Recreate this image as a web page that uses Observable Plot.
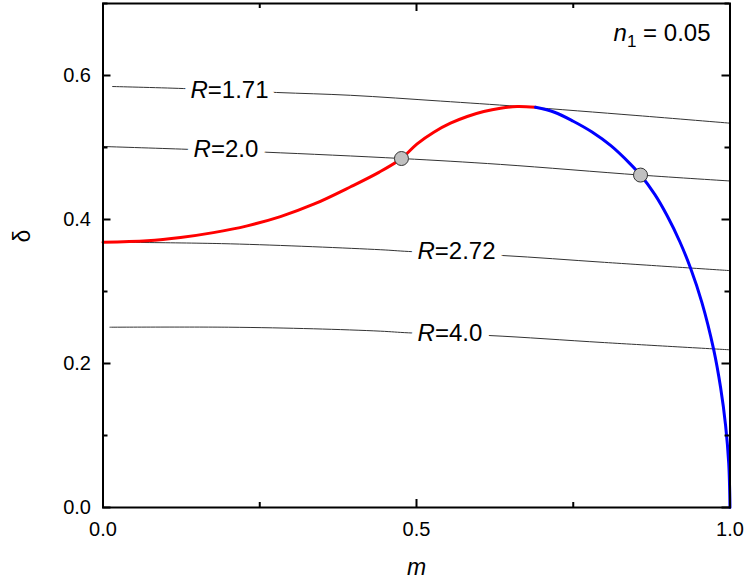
<!DOCTYPE html>
<html><head><meta charset="utf-8">
<script src="https://cdn.jsdelivr.net/npm/d3@7"></script>
<script src="https://cdn.jsdelivr.net/npm/@observablehq/plot@0.6"></script>
<style>body{margin:0;background:#fff;}</style>
</head><body><div id="chart"></div>
<script>
// Red branch (m, δ)
const redM = [0, 0.0705, 0.1236, 0.176, 0.230, 0.283, 0.336, 0.395, 0.44, 0.476, 0.501, 0.5276, 0.5542, 0.5809, 0.6073, 0.634, 0.6606, 0.6898];
const redD = [0.3685, 0.3705, 0.3750, 0.3818, 0.3912, 0.4040, 0.4212, 0.4455, 0.4655, 0.4847, 0.5051, 0.5213, 0.5338, 0.5431, 0.5500, 0.5546, 0.5569, 0.5558];
// Blue branch (m, δ)
const blueM = [0.6898, 0.72, 0.75, 0.78, 0.81, 0.84, 0.8573, 0.88, 0.90, 0.92, 0.937, 0.955, 0.974, 0.985, 0.993, 0.998, 1.0];
const blueD = [0.5558, 0.5490, 0.5365, 0.5215, 0.5025, 0.4780, 0.4617, 0.4348, 0.4048, 0.3691, 0.3326, 0.2853, 0.2193, 0.1666, 0.1138, 0.0608, 0];
// Iso-R lines
const r171M = [0.015, 0.128, 0.277, 0.395, 0.538, 0.666, 0.85, 1.0];
const r171D = [0.5847, 0.5819, 0.5764, 0.5725, 0.5645, 0.5569, 0.5445, 0.5338];
const r20M = [0, 0.134, 0.259, 0.476, 0.634, 0.8573, 1.0];
const r20D = [0.5014, 0.4975, 0.4935, 0.4847, 0.4765, 0.4617, 0.4535];
const r272M = [0, 0.203, 0.443, 0.487, 0.637, 0.8, 1.0];
const r272D = [0.3685, 0.3662, 0.3580, 0.3556, 0.3500, 0.3405, 0.3290];
const r40M = [0.011, 0.2, 0.336, 0.443, 0.487, 0.615, 0.8, 1.0];
const r40D = [0.2504, 0.2504, 0.2482, 0.2449, 0.2426, 0.2389, 0.2290, 0.2190];
// Labels for the iso-R lines
const rLabels = ["R=1.71", "R=2.0", "R=2.72", "R=4.0"];
const rLabelM = [0.2018, 0.196, 0.5638, 0.5534];
const rLabelD = [0.579, 0.4972, 0.3556, 0.2417];
// Intersection points
const ptM = [0.476, 0.8573];
const ptD = [0.4847, 0.4617];
// Ticks
const xMajor = [0, 0.5, 1.0];
const xMinor = [0.25, 0.75];
const yMajor = [0, 0.2, 0.4, 0.6];
const yMinor = [0.1, 0.3, 0.5, 0.7];
const annotation = "n1 = 0.05";

const toRows = (M, D) => M.map((m, i) => ({m, d: D[i]}));
const red = toRows(redM, redD);
const blue = toRows(blueM, blueD);
const rLines = [
  ...toRows(r171M, r171D).map(r => ({...r, R: "1.71"})),
  ...toRows(r20M, r20D).map(r => ({...r, R: "2.0"})),
  ...toRows(r272M, r272D).map(r => ({...r, R: "2.72"})),
  ...toRows(r40M, r40D).map(r => ({...r, R: "4.0"}))
];
const labels = rLabels.map((t, i) => ({t, m: rLabelM[i], d: rLabelD[i]}));
const pts = toRows(ptM, ptD);

const W = 747, H = 583, mL = 102.5, mR = 17.5, mT = 3, mB = 76;
const ph = H - mT - mB, pw = W - mL - mR;
const fmt = d3.format(".1f");

const chart = Plot.plot({
  width: W, height: H,
  marginLeft: mL, marginRight: mR, marginTop: mT, marginBottom: mB,
  style: {fontFamily: "'Liberation Sans', Arial, sans-serif", fontSize: "20px", background: "#fff", color: "#000"},
  x: {domain: [0, 1], label: null},
  y: {domain: [0, 0.7], label: null},
  marks: [
    Plot.line(rLines, {x: "m", y: "d", z: "R", stroke: "#333", strokeWidth: 1, curve: "catmull-rom"}),
    // white halo that opens a gap in the iso-R lines
    Plot.text(labels, {x: "m", y: "d", text: "t", fontSize: 24, fill: "white", stroke: "white", strokeWidth: 15}),
    Plot.text(labels, {x: "m", y: "d", text: "t", fontSize: 24, fill: "#000"}),
    Plot.line(red, {x: "m", y: "d", stroke: "#ff0000", strokeWidth: 3, curve: "catmull-rom"}),
    Plot.line(blue, {x: "m", y: "d", stroke: "#0000ff", strokeWidth: 3, curve: "catmull-rom"}),
    Plot.dot(pts, {x: "m", y: "d", r: 7, fill: "#c0c0c0", stroke: "#333", strokeWidth: 1}),
    // inward ticks on all four sides
    Plot.tickX(xMajor, {x: d => d, insetTop: ph - 8, stroke: "#000", strokeWidth: 2}),
    Plot.tickX(xMajor, {x: d => d, insetBottom: ph - 8, stroke: "#000", strokeWidth: 2}),
    Plot.tickX(xMinor, {x: d => d, insetTop: ph - 5, stroke: "#000", strokeWidth: 2}),
    Plot.tickX(xMinor, {x: d => d, insetBottom: ph - 5, stroke: "#000", strokeWidth: 2}),
    Plot.tickY(yMajor, {y: d => d, insetRight: pw - 8, stroke: "#000", strokeWidth: 2}),
    Plot.tickY(yMajor, {y: d => d, insetLeft: pw - 8, stroke: "#000", strokeWidth: 2}),
    Plot.tickY(yMinor, {y: d => d, insetRight: pw - 5, stroke: "#000", strokeWidth: 2}),
    Plot.tickY(yMinor, {y: d => d, insetLeft: pw - 5, stroke: "#000", strokeWidth: 2}),
    Plot.frame({stroke: "#000", strokeWidth: 2}),
    Plot.axisX({ticks: xMajor, tickSize: 0, tickPadding: 14, tickFormat: fmt, fontSize: 20}),
    Plot.axisY({ticks: yMajor, tickSize: 0, tickPadding: 12, tickFormat: fmt, fontSize: 20}),
    Plot.text(["m"], {frameAnchor: "bottom", text: d => d, dy: 67, fontSize: 23, fontStyle: "italic"}),
    Plot.text(["δ"], {frameAnchor: "left", text: d => d, dx: -80.5, dy: -13, rotate: -90, fontSize: 23}),
    Plot.text([annotation], {frameAnchor: "top-right", text: d => d, dx: -19.5, dy: 20, lineAnchor: "top", textAnchor: "end", fontSize: 24})
  ]
});

const svg = d3.select(chart);
svg.selectAll("text").filter(function() { return rLabels.includes(this.textContent); }).each(function() {
  const t = this.textContent;
  const sel = d3.select(this);
  sel.text(null);
  sel.append("tspan").attr("font-style", "italic").text(t.slice(0, 1));
  sel.append("tspan").text(t.slice(1));
});
svg.selectAll("text").filter(function() { return this.textContent === annotation; }).each(function() {
  const sel = d3.select(this);
  sel.text(null);
  sel.append("tspan").attr("font-style", "italic").text("n");
  sel.append("tspan").attr("dy", 6).attr("font-size", 17).text("1");
  sel.append("tspan").attr("dy", -6).text(" = 0.05");
});
document.getElementById("chart").appendChild(chart);
</script>
</body></html>
